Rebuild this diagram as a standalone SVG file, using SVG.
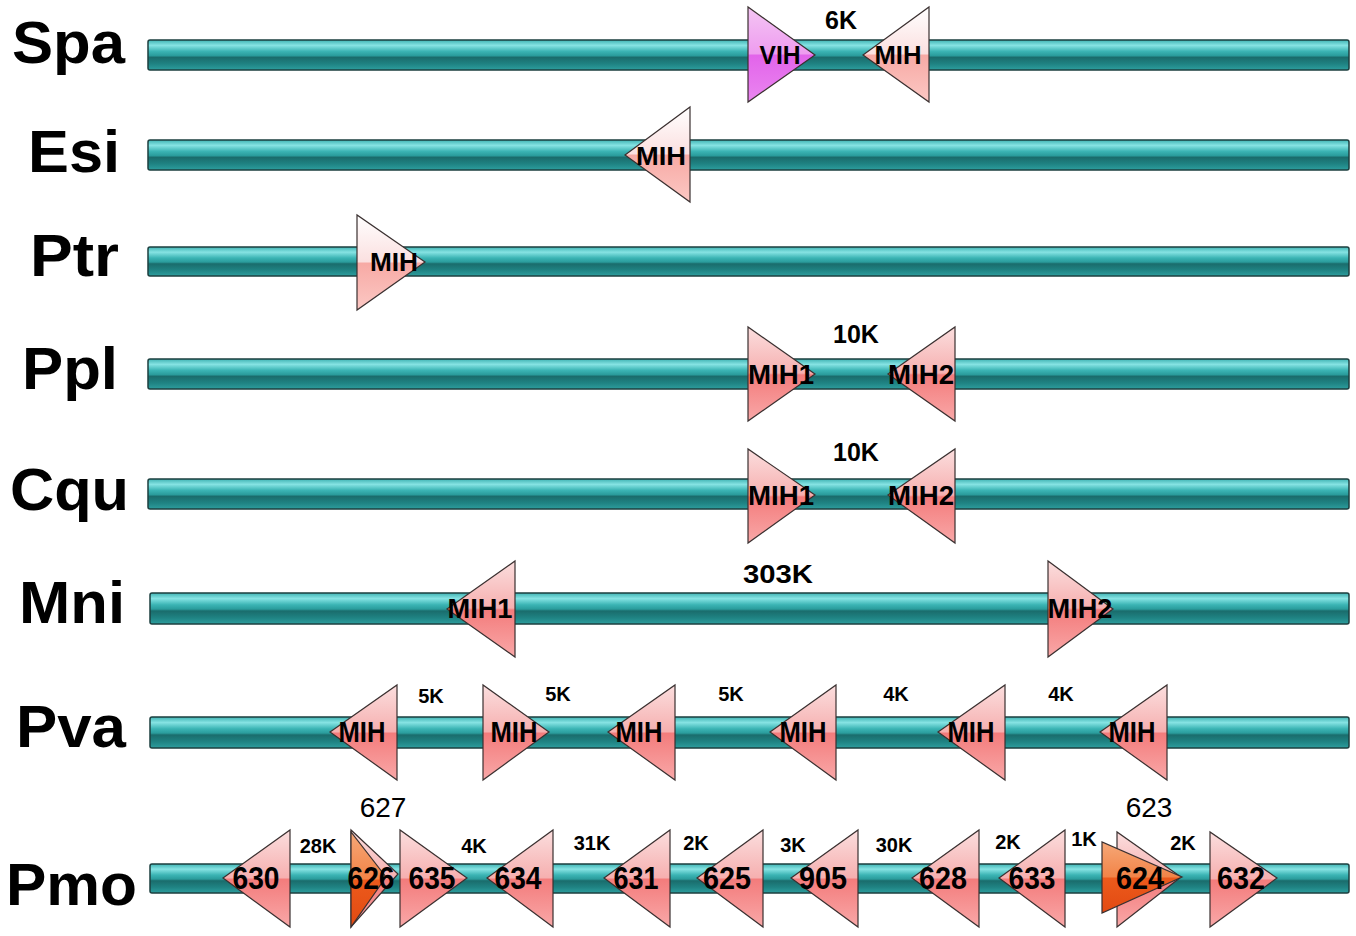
<svg xmlns="http://www.w3.org/2000/svg" width="1356" height="936" viewBox="0 0 1356 936">
<defs>
<linearGradient id="gBar" x1="0" y1="0" x2="0" y2="1">
<stop offset="0" stop-color="#3fb3b3"/>
<stop offset="0.18" stop-color="#86e3e3"/>
<stop offset="0.38" stop-color="#3bb4b4"/>
<stop offset="0.52" stop-color="#2a9c9c"/>
<stop offset="0.58" stop-color="#1a6c6c"/>
<stop offset="0.8" stop-color="#1f8383"/>
<stop offset="1" stop-color="#2d9e9e"/>
</linearGradient>
<linearGradient id="gPink" x1="0" y1="0" x2="0" y2="1">
<stop offset="0" stop-color="#fbdede"/>
<stop offset="0.49" stop-color="#f6b0b0"/>
<stop offset="0.51" stop-color="#f37c7c"/>
<stop offset="1" stop-color="#f9a8a8"/>
</linearGradient>
<linearGradient id="gLight" x1="0" y1="0" x2="0" y2="1">
<stop offset="0" stop-color="#ffffff"/>
<stop offset="0.49" stop-color="#fbe0e0"/>
<stop offset="0.51" stop-color="#f7aaa5"/>
<stop offset="1" stop-color="#fcc8c4"/>
</linearGradient>
<linearGradient id="gMag" x1="0" y1="0" x2="0" y2="1">
<stop offset="0" stop-color="#f4c6f4"/>
<stop offset="0.49" stop-color="#ee9cef"/>
<stop offset="0.51" stop-color="#e264ea"/>
<stop offset="1" stop-color="#ea86f0"/>
</linearGradient>
<linearGradient id="gOr" x1="0" y1="0" x2="0" y2="1">
<stop offset="0" stop-color="#f6a878"/>
<stop offset="0.49" stop-color="#f28448"/>
<stop offset="0.51" stop-color="#ec5a1c"/>
<stop offset="1" stop-color="#e24a12"/>
</linearGradient>
</defs>
<style>
.lbl{font-family:"Liberation Sans",Arial,sans-serif;font-weight:bold;font-size:59px;fill:#000}
.bar{fill:url(#gBar);stroke:#1c3f3f;stroke-width:1.5}
.tri{stroke:#3a3030;stroke-width:1.2;stroke-linejoin:miter}
.pink{fill:url(#gPink)}
.light{fill:url(#gLight)}
.mag{fill:url(#gMag)}
.or{fill:url(#gOr)}
.g{font-family:"Liberation Sans",Arial,sans-serif;font-weight:bold;fill:#000;text-anchor:middle}
.num{font-family:"Liberation Sans",Arial,sans-serif;font-weight:bold;fill:#000;text-anchor:middle;font-size:32px}
.d{font-family:"Liberation Sans",Arial,sans-serif;font-weight:bold;fill:#000;text-anchor:middle;font-size:20px}
.dl{font-family:"Liberation Sans",Arial,sans-serif;font-weight:bold;fill:#000;text-anchor:middle;font-size:25px}
.n{font-family:"Liberation Sans",Arial,sans-serif;fill:#000;text-anchor:middle;font-size:28px}
</style>
<rect width="1356" height="936" fill="#fff"/>

<g id="row-spa">
<text class="lbl" x="12" y="63" textLength="113" lengthAdjust="spacingAndGlyphs">Spa</text>
<rect class="bar" x="148" y="40" width="1201" height="30" rx="2"/>
<g id="spa-vih"><polygon class="tri mag" points="748,7 748,102 815,55"/><text class="g" x="780" y="64" font-size="26" textLength="41" lengthAdjust="spacingAndGlyphs">VIH</text></g>
<g id="spa-mih"><polygon class="tri light" points="929,7 929,102 863,55"/><text class="g" x="898" y="64" font-size="26" textLength="47" lengthAdjust="spacingAndGlyphs">MIH</text></g>
<text class="dl" x="841" y="29" font-size="24">6K</text>
</g>

<g id="row-esi">
<text class="lbl" x="28" y="172" textLength="92" lengthAdjust="spacingAndGlyphs">Esi</text>
<rect class="bar" x="148" y="140" width="1201" height="30" rx="2"/>
<g id="esi-mih"><polygon class="tri light" points="690,107 690,202 625,155"/><text class="g" x="661" y="165" font-size="26" textLength="50" lengthAdjust="spacingAndGlyphs">MIH</text></g>
</g>

<g id="row-ptr">
<text class="lbl" x="30" y="276" textLength="89" lengthAdjust="spacingAndGlyphs">Ptr</text>
<rect class="bar" x="148" y="247" width="1201" height="29" rx="2"/>
<g id="ptr-mih"><polygon class="tri light" points="357,215 357,310 425,262"/><text class="g" x="394" y="271" font-size="25" textLength="48" lengthAdjust="spacingAndGlyphs">MIH</text></g>
</g>

<g id="row-ppl">
<text class="lbl" x="22" y="389" textLength="96" lengthAdjust="spacingAndGlyphs">Ppl</text>
<rect class="bar" x="148" y="359" width="1201" height="30" rx="2"/>
<g id="ppl-mih1"><polygon class="tri pink" points="748,327 748,421 815,374"/><text class="g" x="781" y="384" font-size="28" textLength="66" lengthAdjust="spacingAndGlyphs">MIH1</text></g>
<g id="ppl-mih2"><polygon class="tri pink" points="955,327 955,421 888,374"/><text class="g" x="921" y="384" font-size="28" textLength="66" lengthAdjust="spacingAndGlyphs">MIH2</text></g>
<text class="dl" x="856" y="343">10K</text>
</g>

<g id="row-cqu">
<text class="lbl" x="10" y="510" textLength="119" lengthAdjust="spacingAndGlyphs">Cqu</text>
<rect class="bar" x="148" y="479" width="1201" height="30" rx="2"/>
<g id="cqu-mih1"><polygon class="tri pink" points="748,449 748,543 815,495"/><text class="g" x="781" y="505" font-size="28" textLength="66" lengthAdjust="spacingAndGlyphs">MIH1</text></g>
<g id="cqu-mih2"><polygon class="tri pink" points="955,449 955,543 888,495"/><text class="g" x="921" y="505" font-size="28" textLength="66" lengthAdjust="spacingAndGlyphs">MIH2</text></g>
<text class="dl" x="856" y="461">10K</text>
</g>

<g id="row-mni">
<text class="lbl" x="19" y="623" textLength="106" lengthAdjust="spacingAndGlyphs">Mni</text>
<rect class="bar" x="150" y="593" width="1199" height="31" rx="2"/>
<g id="mni-mih1"><polygon class="tri pink" points="515,561 515,657 447,609"/><text class="g" x="480" y="618" font-size="27" textLength="65" lengthAdjust="spacingAndGlyphs">MIH1</text></g>
<g id="mni-mih2"><polygon class="tri pink" points="1048,561 1048,657 1113,609"/><text class="g" x="1080" y="618" font-size="27" textLength="65" lengthAdjust="spacingAndGlyphs">MIH2</text></g>
<text class="dl" x="778" y="583" textLength="70" lengthAdjust="spacingAndGlyphs">303K</text>
</g>

<g id="row-pva">
<text class="lbl" x="16" y="747" textLength="110" lengthAdjust="spacingAndGlyphs">Pva</text>
<rect class="bar" x="150" y="717" width="1199" height="31" rx="2"/>
<g id="pva-1"><polygon class="tri pink" points="397,685 397,780 330,732"/><text class="g" x="362" y="742" font-size="29" textLength="47" lengthAdjust="spacingAndGlyphs">MIH</text></g>
<g id="pva-2"><polygon class="tri pink" points="483,685 483,780 549,732"/><text class="g" x="514" y="742" font-size="29" textLength="47" lengthAdjust="spacingAndGlyphs">MIH</text></g>
<g id="pva-3"><polygon class="tri pink" points="675,685 675,780 608,732"/><text class="g" x="639" y="742" font-size="29" textLength="47" lengthAdjust="spacingAndGlyphs">MIH</text></g>
<g id="pva-4"><polygon class="tri pink" points="836,685 836,780 770,732"/><text class="g" x="803" y="742" font-size="29" textLength="47" lengthAdjust="spacingAndGlyphs">MIH</text></g>
<g id="pva-5"><polygon class="tri pink" points="1005,685 1005,780 938,732"/><text class="g" x="971" y="742" font-size="29" textLength="47" lengthAdjust="spacingAndGlyphs">MIH</text></g>
<g id="pva-6"><polygon class="tri pink" points="1167,685 1167,780 1100,732"/><text class="g" x="1132" y="742" font-size="29" textLength="47" lengthAdjust="spacingAndGlyphs">MIH</text></g>
<text class="d" x="431" y="703" font-size="19">5K</text>
<text class="d" x="558" y="701" font-size="19">5K</text>
<text class="d" x="731" y="701" font-size="19">5K</text>
<text class="d" x="896" y="701" font-size="19">4K</text>
<text class="d" x="1061" y="701" font-size="19">4K</text>
</g>

<g id="row-pmo">
<text class="lbl" x="6" y="905" textLength="131" lengthAdjust="spacingAndGlyphs">Pmo</text>
<rect class="bar" x="150" y="864" width="1199" height="29" rx="2"/>
<g id="pmo-630"><polygon class="tri pink" points="290,830 290,927 223,878"/><text class="num" x="256" y="889" textLength="47" lengthAdjust="spacingAndGlyphs">630</text></g>
<g id="pmo-626"><polygon class="tri pink" points="351,830 351,927 398,874"/><polygon class="tri or" points="351,832 351,927 386,877"/><text class="num" x="371" y="889" textLength="47" lengthAdjust="spacingAndGlyphs">626</text></g>
<g id="pmo-635"><polygon class="tri pink" points="400,830 400,927 467,878"/><text class="num" x="432" y="889" textLength="47" lengthAdjust="spacingAndGlyphs">635</text></g>
<g id="pmo-634"><polygon class="tri pink" points="553,830 553,927 487,878"/><text class="num" x="518" y="889" textLength="47" lengthAdjust="spacingAndGlyphs">634</text></g>
<g id="pmo-631"><polygon class="tri pink" points="670,830 670,927 604,878"/><text class="num" x="636" y="889" textLength="45" lengthAdjust="spacingAndGlyphs">631</text></g>
<g id="pmo-625"><polygon class="tri pink" points="763,830 763,927 697,878"/><text class="num" x="727" y="889" textLength="48" lengthAdjust="spacingAndGlyphs">625</text></g>
<g id="pmo-905"><polygon class="tri pink" points="858,830 858,927 791,878"/><text class="num" x="823" y="889" textLength="48" lengthAdjust="spacingAndGlyphs">905</text></g>
<g id="pmo-628"><polygon class="tri pink" points="979,830 979,927 912,878"/><text class="num" x="943" y="889" textLength="48" lengthAdjust="spacingAndGlyphs">628</text></g>
<g id="pmo-633"><polygon class="tri pink" points="1065,830 1065,927 999,878"/><text class="num" x="1032" y="889" textLength="47" lengthAdjust="spacingAndGlyphs">633</text></g>
<g id="pmo-624"><polygon class="tri pink" points="1117,832 1117,927 1181,877"/><polygon class="tri or" points="1102,842 1102,913 1182,877"/><text class="num" x="1140" y="889" textLength="48" lengthAdjust="spacingAndGlyphs">624</text></g>
<g id="pmo-632"><polygon class="tri pink" points="1210,832 1210,927 1277,878"/><text class="num" x="1241" y="889" textLength="48" lengthAdjust="spacingAndGlyphs">632</text></g>
<text class="n" x="383" y="817">627</text>
<text class="n" x="1149" y="817">623</text>
<text class="d" x="318" y="853">28K</text>
<text class="d" x="474" y="853">4K</text>
<text class="d" x="592" y="850">31K</text>
<text class="d" x="696" y="850">2K</text>
<text class="d" x="793" y="852">3K</text>
<text class="d" x="894" y="852">30K</text>
<text class="d" x="1008" y="849">2K</text>
<text class="d" x="1084" y="846">1K</text>
<text class="d" x="1183" y="850">2K</text>
</g>
</svg>
